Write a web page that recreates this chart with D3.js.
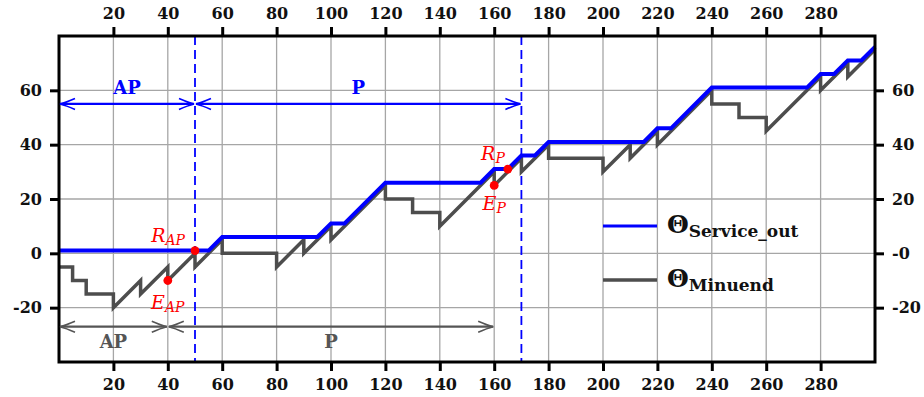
<!DOCTYPE html>
<html>
<head>
<meta charset="utf-8">
<script src="https://cdnjs.cloudflare.com/ajax/libs/d3/7.8.5/d3.min.js"></script>
<style>
  body { margin: 0; background: #fff; }
  #graph { width: 924px; height: 397px; }
  svg text { font-family: "DejaVu Serif", serif; }
</style>
</head>
<body>
<div id="graph"></div>
<script>
// Theta_Service_out (blue)
var serviceX = [0, 55, 60, 95, 100, 105, 120, 155, 160, 165, 170, 175, 180, 215, 220, 225, 240, 275, 280, 285, 290, 295, 300]
var serviceY = [1, 1, 6, 6, 11, 11, 26, 26, 31, 31, 36, 36, 41, 41, 46, 46, 61, 61, 66, 66, 71, 71, 76]

// Theta_Minuend (grey)
var minuendX = [0, 5, 5, 10, 10, 20, 20, 30, 30, 40, 40, 50, 50, 60, 60, 80, 80, 90, 90, 100, 100, 120, 120, 130, 130, 140, 140,
                160, 160, 170, 170, 180, 180, 200, 200, 210, 210, 220, 220, 240, 240, 250, 250, 260, 260, 280, 280, 290, 290, 300]
var minuendY = [-5, -5, -10, -10, -15, -15, -20, -10, -15, -5, -10, 0, -5, 5, 0, 0, -5, 5, 0, 10, 5, 25, 20, 20, 15, 15, 10,
                30, 25, 35, 30, 40, 35, 35, 30, 40, 35, 45, 40, 60, 55, 55, 50, 50, 45, 65, 60, 70, 65, 75]

// red points
var pointNames = ["R", "E", "R", "E"]
var pointSubs  = ["AP", "AP", "P", "P"]
var pointX     = [50, 40, 165, 160]
var pointY     = [1, -10, 31, 25]

// phases
var phaseLines   = [50, 170]
var blueSpans    = [[0, 50], [50, 170]]
var blueLabels   = ["AP", "P"]
var blueArrowY   = 55
var greySpans    = [[0, 40], [40, 160]]
var greyLabels   = ["AP", "P"]
var greyArrowY   = -27

var xTicks = [20, 40, 60, 80, 100, 120, 140, 160, 180, 200, 220, 240, 260, 280]
var yTicks = [-20, 0, 20, 40, 60]

var width  = 924, height = 397
var margin = {top: 36, left: 59, bottom: 35, right: 49}
var chartWidth  = width - (margin.left + margin.right)
var chartHeight = height - (margin.top + margin.bottom)

var blue = "#0000ff", grey = "#4d4d4d", red = "#ff0000"
var serif = "'DejaVu Serif', serif"

var svg = d3.select("#graph").append("svg")
            .attr("width", width).attr("height", height)
var chartLayer = svg.append("g")
                    .attr("transform", "translate(" + [margin.left, margin.top] + ")")

var x = d3.scaleLinear().domain([0, 300]).range([0, chartWidth])
var y = d3.scaleLinear().domain([-40, 80]).range([chartHeight, 0])

// grid
chartLayer.append("g").selectAll("line").data(xTicks).enter().append("line")
          .attr("x1", d => x(d)).attr("x2", d => x(d))
          .attr("y1", 0).attr("y2", chartHeight)
          .attr("stroke", "#a6a6a6").attr("stroke-width", 1.3)
chartLayer.append("g").selectAll("line").data(yTicks).enter().append("line")
          .attr("y1", d => y(d)).attr("y2", d => y(d))
          .attr("x1", 0).attr("x2", chartWidth)
          .attr("stroke", "#a6a6a6").attr("stroke-width", 1.3)

// axes (hyphen instead of unicode minus, like the original)
var fmt = d => String(d)
function styleAxis(g) {
    g.attr("font-family", serif).attr("font-size", 16).attr("font-weight", "bold")
    g.select(".domain").remove()
    g.selectAll(".tick line").attr("stroke", "#000").attr("stroke-width", 3)
    g.selectAll(".tick text").attr("fill", "#111")
}
chartLayer.append("g").attr("transform", "translate(0," + chartHeight + ")")
          .call(d3.axisBottom(x).tickValues(xTicks).tickSize(9).tickPadding(8).tickFormat(fmt)).call(styleAxis)
chartLayer.append("g")
          .call(d3.axisTop(x).tickValues(xTicks).tickSize(9).tickPadding(8).tickFormat(fmt)).call(styleAxis)
chartLayer.append("g")
          .call(d3.axisLeft(y).tickValues(yTicks).tickSize(9).tickPadding(8).tickFormat(fmt)).call(styleAxis)
chartLayer.append("g").attr("transform", "translate(" + chartWidth + ",0)")
          .call(d3.axisRight(y).tickValues(yTicks).tickSize(9).tickPadding(8)
                  .tickFormat(d => d === 0 ? "-0" : String(d))).call(styleAxis)

// phase boundaries
chartLayer.append("g").selectAll("line").data(phaseLines).enter().append("line")
          .attr("x1", d => x(d)).attr("x2", d => x(d))
          .attr("y1", 0).attr("y2", chartHeight)
          .attr("stroke", blue).attr("stroke-width", 1.8).attr("stroke-dasharray", "9,5")

// series
var line = d3.line().x(d => x(d[0])).y(d => y(d[1]))
var minuend = d3.zip(minuendX, minuendY)
var service = d3.zip(serviceX, serviceY)

chartLayer.append("path").datum(minuend).attr("d", line)
          .attr("fill", "none").attr("stroke", grey).attr("stroke-width", 3.5)
chartLayer.append("path").datum(service).attr("d", line)
          .attr("fill", "none").attr("stroke", blue).attr("stroke-width", 4)

// frame
chartLayer.append("rect").attr("width", chartWidth).attr("height", chartHeight)
          .attr("fill", "none").attr("stroke", "#000").attr("stroke-width", 3)

// double arrows
function arrowHead(tip, yy, dir) {
    // dir = 1 -> arms go to the right (head points left)
    return "M" + (tip + dir * 15) + "," + (yy - 5.5) +
           "Q" + (tip + dir * 6) + "," + (yy - 1.5) + " " + tip + "," + yy +
           "Q" + (tip + dir * 6) + "," + (yy + 1.5) + " " + (tip + dir * 15) + "," + (yy + 5.5)
}
function drawArrows(spans, labels, yVal, color, labelDy) {
    var g = chartLayer.append("g")
    spans.forEach(function(s, i) {
        var x0 = x(s[0]), x1 = x(s[1]), yy = y(yVal)
        g.append("line").attr("x1", x0 + 1).attr("x2", x1 - 1).attr("y1", yy).attr("y2", yy)
         .attr("stroke", color).attr("stroke-width", 2.2)
        g.append("path").attr("d", arrowHead(x0 + 1, yy, 1) + arrowHead(x1 - 1, yy, -1))
         .attr("fill", "none").attr("stroke", color).attr("stroke-width", 1.6)
        g.append("text").attr("x", (x0 + x1) / 2).attr("y", yy + labelDy)
         .attr("text-anchor", "middle").attr("fill", color)
         .attr("font-size", 18).attr("font-weight", "bold")
         .text(labels[i])
    })
}
drawArrows(blueSpans, blueLabels, blueArrowY, blue, -10)
drawArrows(greySpans, greyLabels, greyArrowY, "#555555", 21)

// red points + labels
var labelOffsets = [[-10, -9, "end"], [0, 28, "middle"], [-3, -9, "end"], [0, 25, "middle"]]
chartLayer.append("g").selectAll("circle").data(pointX).enter().append("circle")
          .attr("cx", d => x(d)).attr("cy", (d, i) => y(pointY[i]))
          .attr("r", 4.4).attr("fill", red)
pointX.forEach(function(px, i) {
    var off = labelOffsets[i]
    var t = chartLayer.append("text")
                      .attr("x", x(px) + off[0]).attr("y", y(pointY[i]) + off[1])
                      .attr("text-anchor", off[2]).attr("fill", red)
                      .attr("font-style", "italic")
    t.append("tspan").attr("font-size", 19).text(pointNames[i])
    t.append("tspan").attr("dy", 3).attr("font-size", 14).text(pointSubs[i])
})

// legend
var legend = [{name: "Service_out", color: blue, w: 3}, {name: "Minuend", color: grey, w: 3.5}]
var lg = svg.append("g").attr("transform", "translate(603,226)")
legend.forEach(function(d, i) {
    var row = lg.append("g").attr("transform", "translate(0," + (i * 54) + ")")
    row.append("line").attr("x1", 0).attr("x2", 54).attr("y1", 0).attr("y2", 0)
       .attr("stroke", d.color).attr("stroke-width", d.w)
    var t = row.append("text").attr("x", 64).attr("y", 7).attr("fill", "#111")
               .attr("font-weight", "bold")
    t.append("tspan").attr("font-size", 25).text("Θ")
    t.append("tspan").attr("dy", 4).attr("font-size", 17).text(d.name)
})
</script>
</body>
</html>
